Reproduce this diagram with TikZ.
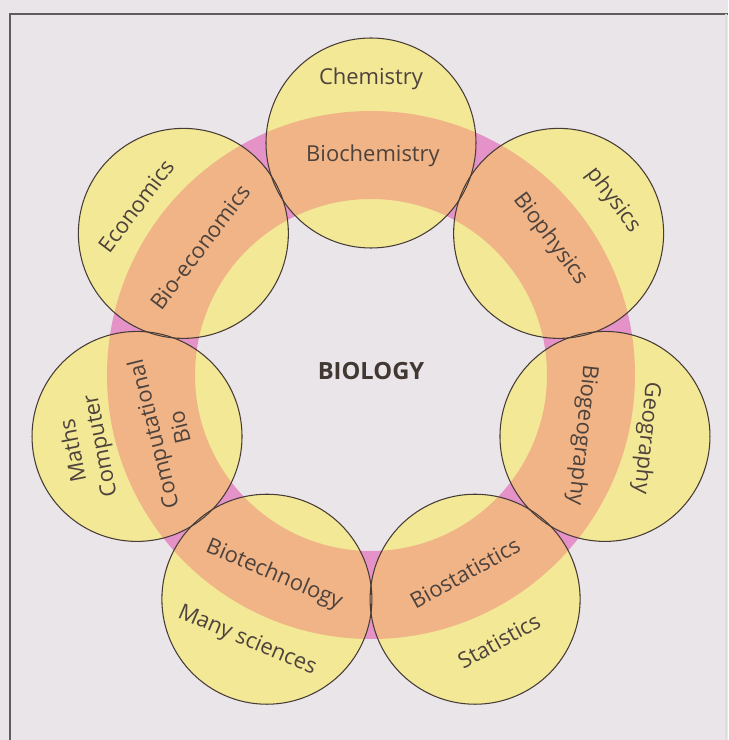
\documentclass[tikz,border=0pt]{standalone}
\usepackage{fontspec}
\setmainfont{Open Sans}
\definecolor{pagebg}{RGB}{234,229,232}
\definecolor{framegray}{RGB}{95,92,92}
\definecolor{ringpink}{RGB}{228,146,200}
\definecolor{ringorange}{RGB}{240,180,135}
\definecolor{discyellow}{RGB}{242,232,150}
\definecolor{inkbrown}{RGB}{78,66,60}

\begin{document}
\begin{tikzpicture}[x=0.02cm, y=0.02cm,
  disc/.style={fill=discyellow},
  rim/.style={draw=inkbrown!90!black, line width=0.6pt},
  lbl/.style={text=inkbrown, font=\fontsize{12.5}{15.5}\selectfont, align=center, inner sep=0pt},
  frame/.style={framegray, line width=0.8pt}]
% ---- page background and frame ----
\useasboundingbox[fill=pagebg] (-371,-357) rectangle (357,383);
\draw[frame] (-361,-357) -- (-361,369) -- (357,369);
\draw[frame, framegray!20] (355,369) -- (355,-357);
% ---- centres of the seven discs on the ring ----
\coordinate (chem) at (90:240);
\coordinate (phys) at (38.57:240);
\coordinate (geog) at (-12.86:240);
\coordinate (stat) at (-64.29:240);
\coordinate (many) at (-115.71:240);
\coordinate (comp) at (-167.14:240);
\coordinate (econ) at (141.43:240);
\coordinate (hub)  at (0,8);
% ---- pink ring behind everything ----
\fill[ringpink, even odd rule] (hub) circle[radius=264] (hub) circle[radius=176];
% ---- yellow discs ----
\fill[disc] (chem) circle[radius=105];
\fill[disc] (phys) circle[radius=105];
\fill[disc] (geog) circle[radius=105];
\fill[disc] (stat) circle[radius=105];
\fill[disc] (many) circle[radius=105];
\fill[disc] (comp) circle[radius=105];
\fill[disc] (econ) circle[radius=105];
% ---- ring seen through the discs turns orange ----
\begin{scope}
  \clip (chem) circle[radius=105] (phys) circle[radius=105]
        (geog) circle[radius=105] (stat) circle[radius=105]
        (many) circle[radius=105] (comp) circle[radius=105]
        (econ) circle[radius=105];
  \fill[ringorange, even odd rule] (hub) circle[radius=264] (hub) circle[radius=176];
\end{scope}
% ---- disc outlines ----
\draw[rim] (chem) circle[radius=105];
\draw[rim] (phys) circle[radius=105];
\draw[rim] (geog) circle[radius=105];
\draw[rim] (stat) circle[radius=105];
\draw[rim] (many) circle[radius=105];
\draw[rim] (comp) circle[radius=105];
\draw[rim] (econ) circle[radius=105];
% ---- centre label ----
\node[text=inkbrown!85!black, font=\fontsize{13.5}{16}\selectfont\bfseries] (bio) at (0,12) {BIOLOGY};
% ---- outer field (in the disc) and inner field (on the ring) ----
\node[lbl] (chemtxt) at (0,304) {Chemistry};
\node[lbl] (biochem) at (2,227) {Biochemistry};
\node[lbl, rotate=-53] (phystxt) at (242,183) {physics};
\node[lbl, rotate=-53] (biophys) at (179,144) {Biophysics};
\node[lbl, rotate=-96] (geogtxt) at (275,-55) {Geography};
\node[lbl, rotate=-96] (biogeog) at (211,-52) {Biogeography};
\node[lbl, rotate=29] (stattxt) at (128,-258) {Statistics};
\node[lbl, rotate=29] (biostat) at (94,-190) {Biostatistics};
\node[lbl, rotate=-23] (manytxt) at (-124,-258) {Many sciences};
\node[lbl, rotate=-23] (biotech) at (-97,-192) {Biotechnology};
\node[lbl, rotate=101] (comptxt) at (-283,-65) {Maths\\Computer};
\node[lbl, rotate=104] (compbio) at (-205,-48) {Computational\\Bio};
\node[lbl, rotate=53] (econtxt) at (-235,177) {Economics};
\node[lbl, rotate=53] (bioecon) at (-171,136) {Bio-economics};
\end{tikzpicture}
\end{document}
